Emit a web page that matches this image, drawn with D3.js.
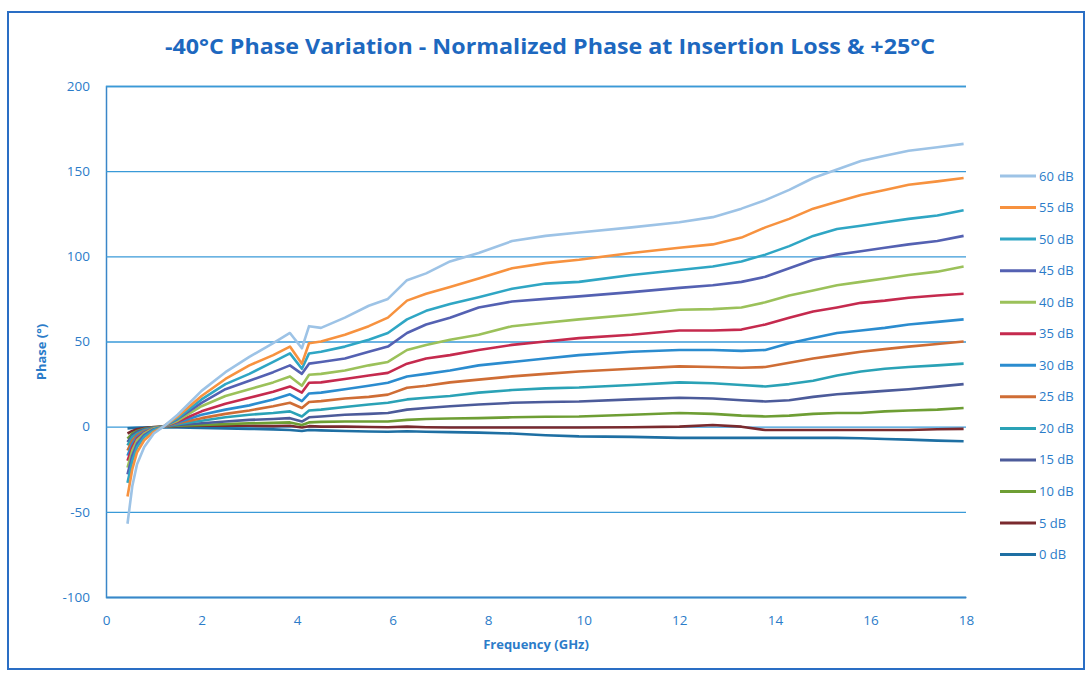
<!DOCTYPE html>
<html><head><meta charset="utf-8">
<script src="https://cdn.jsdelivr.net/npm/d3@7"></script>
<style>body{margin:0;background:#fff}svg{display:block}</style>
</head><body><svg id="c" width="1088" height="673"></svg>
<script>
const freq = [0.45,0.55,0.65,0.8,1.0,1.2,1.5,2.0,2.5,3.0,3.5,3.85,4.1,4.25,4.5,5.0,5.5,5.9,6.3,6.7,7.2,7.8,8.5,9.2,9.9,11.0,12.0,12.7,13.3,13.8,14.3,14.8,15.3,15.8,16.3,16.8,17.4,17.95];
const s60 = [-57,-35,-22,-12,-4,0,7,21,32,41,49,55,46,59,58,64,71,75,86,90,97,102,109,112,114,117,120,123,128,133,139,146,151,156,159,162,164,166];
const s55 = [-41,-25,-15,-8,-3,0,6,18,28,36,42,47,37,49,50,54,59,64,74,78,82,87,93,96,98,102,105,107,111,117,122,128,132,136,139,142,144,146];
const s50 = [-33,-20,-12,-6,-2,0,5,16,25,31,38,43,34,43,44,47,51,55,63,68,72,76,81,84,85,89,92,94,97,101,106,112,116,118,120,122,124,127];
const s45 = [-28,-17,-10,-5,-1.5,0,4.5,14,22,27,32,36,31,37,38,40,44,47,55,60,64,70,73.5,75,76.5,79,81.5,83,85,88,93,98,101,103,105,107,109,112];
const s40 = [-24,-14,-8,-4,-1,0,3.5,12,18,22,26,29.5,24,30.5,31,33,36,38,45,48,51,54,59,61,63,65.7,68.6,69,70,73,77,80,83,85,87,89,91,94];
const s35 = [-20,-12,-7,-3.5,-1,0,3,9,13.5,17,20.5,23.6,20,25.8,26,28,30,31.6,37,40,42,45,48,50,52,54,56.5,56.5,57,60,64,67.6,70,72.7,74,75.7,77,78];
const s30 = [-17,-10,-6,-3,-1,0,2.5,7,10,12.5,16,19,15,19.5,20,22,24,25.8,29.5,31,33,36,38,40,42,44,45,45,44.5,45,49,52,55,56.5,58,60,61.5,63];
const s25 = [-14,-8,-5,-2.5,-1,0,2,5,7.5,9.5,12,14,11,14.5,15,16.5,17.5,18.8,22.8,24,26,27.6,29.5,31,32.4,34,35.4,35,34.6,35,37.5,40,42,44,45.5,47,48.5,50];
const s20 = [-11,-6,-4,-2,-0.8,0,1.5,3.5,5.5,7,8,9,6,9.5,10,11.5,13,14,16,17,18,20,21.5,22.5,23,24.5,26,25.5,24.5,23.6,25,27,30,32.4,34,35,36,37];
const s15 = [-9,-5,-3,-1.5,-0.5,0,1,2,3,4,4.5,5,3,5.5,6,7,7.5,8,10,11,12,13,14,14.5,14.8,16,17,16.5,15.5,14.8,15.5,17.5,19,20,21,22,23.5,25];
const s10 = [-7,-4,-2.5,-1.2,-0.4,0,0.5,1,1.5,2,2.2,2.5,1,2.5,2.8,3,3,3,4,4.5,4.8,5,5.5,5.8,6,7,8,7.5,6.5,6,6.5,7.5,8,8,9,9.5,10,11];
const s5 = [-4,-2.5,-1.5,-0.8,-0.2,0,0.3,0.5,0.5,0.5,0.3,0.5,-0.5,0.3,0,0,-0.2,-0.3,0,-0.3,-0.5,-0.5,-0.5,-0.5,-0.5,-0.3,0,1,0,-2,-2,-2,-2,-2,-2,-2,-1.5,-1.3];
const s0 = [-1,-0.8,-0.6,-0.5,-0.4,-0.3,-0.5,-0.7,-1,-1.3,-1.6,-2,-2.5,-2,-2.2,-2.5,-2.8,-3,-2.7,-3,-3.2,-3.5,-4,-5,-5.7,-6,-6.6,-6.6,-6.6,-6.6,-6.6,-6.6,-6.6,-6.8,-7.2,-7.6,-8.2,-8.6];
const seriesNames = ["60 dB","55 dB","50 dB","45 dB","40 dB","35 dB","30 dB","25 dB","20 dB","15 dB","10 dB","5 dB","0 dB"];
const seriesValues = [s60,s55,s50,s45,s40,s35,s30,s25,s20,s15,s10,s5,s0];
const seriesColors = ["#9dc3e6","#f7923f","#2fa6c4","#5461b2","#9bc15a","#c52a4e","#2b8ccf","#cf6d35","#2aa2b6","#4c5b9a","#6e9e34","#7a2a2e","#1e6fa3"];
const xTicks = [0,2,4,6,8,10,12,14,16,18];
const yTicks = [-100,-50,0,50,100,150,200];
const title = "-40°C Phase Variation - Normalized Phase at Insertion Loss & +25°C";
const xTitle = "Frequency (GHz)";
const yTitle = "Phase (°)";

const svg = d3.select("#c");
const blue = "#2b7cc9";
const font = "'Open Sans', sans-serif";
const x = d3.scaleLinear().domain([0,18]).range([106,966]);
const y = d3.scaleLinear().domain([-100,200]).range([597,86]);

// outer frame
svg.append("rect").attr("x",8).attr("y",12).attr("width",1076).attr("height",657)
  .attr("fill","none").attr("stroke","#2a6ec4").attr("stroke-width",2);

// title
svg.append("text").attr("x",550).attr("y",54).attr("text-anchor","middle")
  .attr("font-family",font).attr("font-weight","bold").attr("font-size",22)
  .attr("fill","#1d68bf").attr("textLength",770).attr("lengthAdjust","spacingAndGlyphs").text(title);

// gridlines + y axis
const yAxis = d3.axisLeft(y).tickValues(yTicks).tickSize(-(966-106)).tickFormat(d=>String(d)).tickPadding(16);
const gy = svg.append("g").attr("transform","translate(106,0)").call(yAxis);
gy.select(".domain").attr("stroke","#3a86c8").attr("stroke-width",1.5);
gy.selectAll(".tick line").attr("stroke","#3a9ad8").attr("stroke-width",1.3);
gy.selectAll(".tick text").attr("font-family",font).attr("font-size",13.5).attr("fill",blue);

const xAxis = d3.axisBottom(x).tickValues(xTicks).tickSize(0).tickPadding(18).tickFormat(d=>String(d));
const gx = svg.append("g").attr("transform","translate(0,597)").call(xAxis);
gx.select(".domain").attr("stroke","#3a86c8").attr("stroke-width",1.5);
gx.selectAll(".tick text").attr("font-family",font).attr("font-size",13.5).attr("fill",blue);

// axis titles
svg.append("text").attr("x",536).attr("y",649).attr("text-anchor","middle")
  .attr("font-family",font).attr("font-weight","bold").attr("font-size",13).attr("fill",blue).text(xTitle);
svg.append("text").attr("transform","translate(46,352) rotate(-90)").attr("text-anchor","middle")
  .attr("font-family",font).attr("font-weight","bold").attr("font-size",13).attr("fill",blue).text(yTitle);

// lines
const line = d3.line().x((d,i)=>x(freq[i])).y(d=>y(d));
const order = d3.range(seriesNames.length).reverse();
order.forEach(i=>{
  svg.append("path").datum(seriesValues[i]).attr("d",line).attr("fill","none")
    .attr("stroke",seriesColors[i]).attr("stroke-width",2.6).attr("stroke-linejoin","round");
});

// legend
const lg = svg.append("g");
seriesNames.forEach((n,i)=>{
  const yy = 176 + i*31.55;
  lg.append("line").attr("x1",1000).attr("x2",1036).attr("y1",yy).attr("y2",yy)
    .attr("stroke",seriesColors[i]).attr("stroke-width",3);
  lg.append("text").attr("x",1039).attr("y",yy+4.5).attr("font-family",font).attr("font-size",13)
    .attr("fill",blue).text(n);
});
</script></body></html>
